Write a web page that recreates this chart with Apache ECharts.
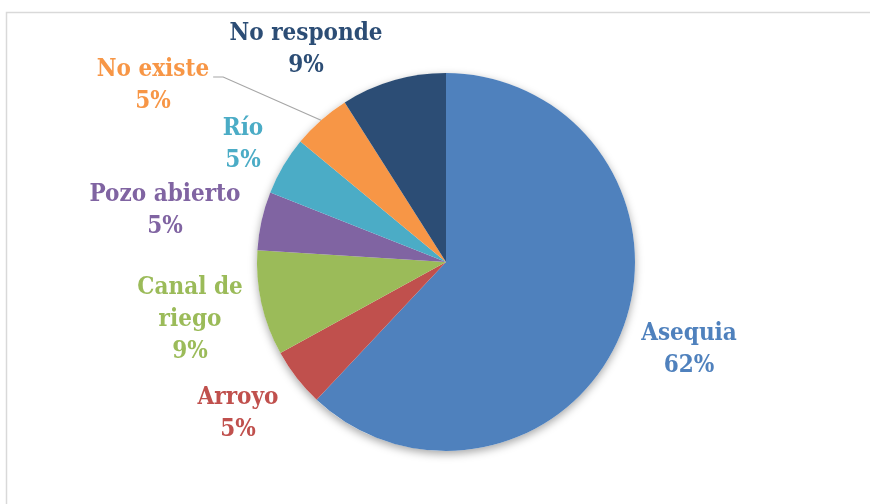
<!DOCTYPE html>
<html>
<head>
<meta charset="utf-8">
<script src="https://cdn.jsdelivr.net/npm/echarts@6/dist/echarts.min.js"></script>
<style>
  html, body { margin: 0; padding: 0; background: #fff; }
  #chart { width: 870px; height: 504px; }
</style>
</head>
<body>
<div id="chart"></div>
<script>
// datos del gráfico (sentido horario desde arriba)
const categories = ['Asequia', 'Arroyo', 'Canal de\nriego', 'Pozo abierto', 'Río', 'No existe', 'No responde'];
const values = [62, 5, 9, 5, 5, 5, 9];
const colors = ['#4F81BD', '#C0504D', '#9BBB59', '#8064A2', '#4BACC6', '#F79646', '#2C4D75'];

// centro de cada etiqueta (posición de texto, no de las porciones)
const labelPos = [[689, 350], [238, 414], [190, 320], [165, 211], [243, 145], [153, 86], [306, 50]];

const chart = echarts.init(document.getElementById('chart'));

chart.setOption({
  backgroundColor: '#fff',
  animation: false,
  graphic: [{
    type: 'rect',
    silent: true,
    shape: { x: 6.5, y: 12.5, width: 1000, height: 1000 },
    style: { fill: 'none', stroke: '#d9d9d9', lineWidth: 1.5 }
  }],
  series: [
    {
      // sombra del círculo
      type: 'pie',
      silent: true,
      center: [446, 262],
      radius: 189,
      z: 1,
      label: { show: false },
      labelLine: { show: false },
      itemStyle: {
        color: '#ffffff',
        shadowBlur: 8,
        shadowColor: 'rgba(0,0,0,0.35)',
        shadowOffsetY: 3
      },
      data: [{ value: 1 }]
    },
    {
      type: 'pie',
      center: [446, 262],
      radius: 189,
      z: 2,
      startAngle: 90,
      clockwise: true,
      label: {
        show: true,
        position: 'outside',
        fontFamily: '"DejaVu Serif Condensed", "DejaVu Serif", serif',
        fontWeight: 'bold',
        fontSize: 24,
        lineHeight: 32,
        align: 'center',
        formatter: p => p.name + '\n' + p.value + '%',
        color: 'inherit'
      },
      labelLine: { show: false },
      labelLayout: function (params) {
        const pos = labelPos[params.dataIndex];
        const res = { x: pos[0], y: pos[1], align: 'center', verticalAlign: 'middle' };
        if (params.dataIndex === 5) {
          const w = params.labelRect.width;
          const x0 = pos[0] + w / 2 + 4;
          const y0 = pos[1] - 9;
          res.labelLinePoints = [[x0, y0], [x0 + 10, y0], params.labelLinePoints ? params.labelLinePoints[0] : [318, 123]];
        }
        return res;
      },
      data: categories.map((c, i) => ({
        name: c,
        value: values[i],
        itemStyle: { color: colors[i] },
        label: { color: colors[i] },
        labelLine: i === 5 ? { show: true, lineStyle: { color: '#a6a6a6', width: 1.2 } } : { show: false }
      }))
    }
  ]
});
</script>
</body>
</html>
